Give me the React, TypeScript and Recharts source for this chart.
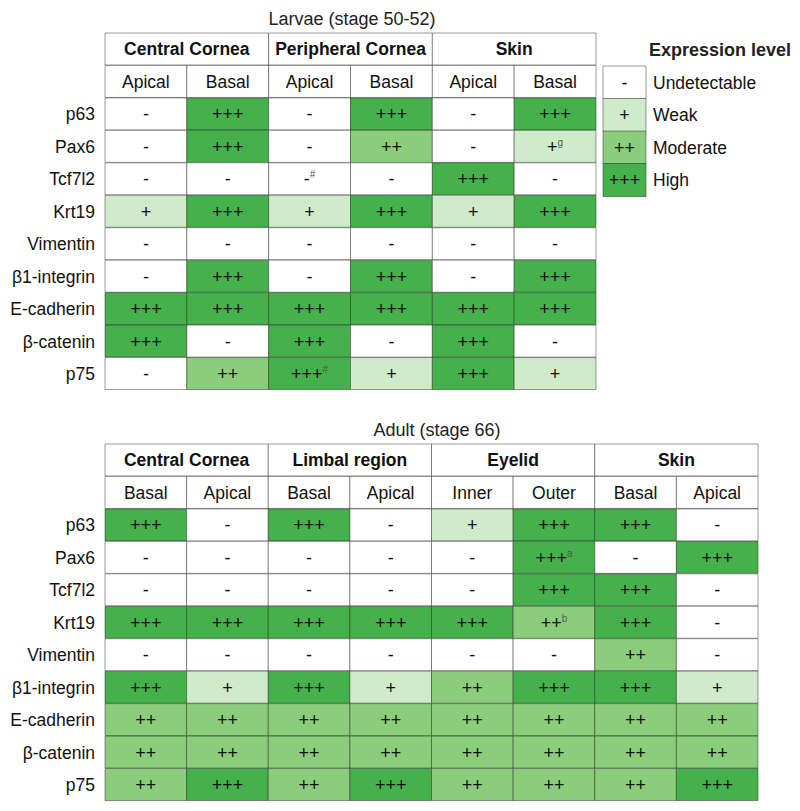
import React from "react";
import { BarChart, Bar, XAxis, YAxis, LabelList, Cell } from "recharts";

const FONT = "'Liberation Sans', Arial, Helvetica, sans-serif";

// expression level -> fill / symbol
const LEVEL_FILL = ["#ffffff", "#d0ebc9", "#8bcd7b", "#45b14b"];
const LEVEL_TEXT = ["-", "+", "++", "+++"];
const LEVEL_NAMES = ["Undetectable", "Weak", "Moderate", "High"];

const markers = ["p63", "Pax6", "Tcf7l2", "Krt19", "Vimentin", "β1-integrin", "E-cadherin", "β-catenin", "p75"];

// Larvae (stage 50-52)
const larvaeGroups = ["Central Cornea", "Peripheral Cornea", "Skin"];
const larvaeSubs = ["Apical", "Basal", "Apical", "Basal", "Apical", "Basal"];
const larvaeLevels = [
  [0, 3, 0, 3, 0, 3], // p63
  [0, 3, 0, 2, 0, 1], // Pax6
  [0, 0, 0, 0, 3, 0], // Tcf7l2
  [1, 3, 1, 3, 1, 3], // Krt19
  [0, 0, 0, 0, 0, 0], // Vimentin
  [0, 3, 0, 3, 0, 3], // b1-integrin
  [3, 3, 3, 3, 3, 3], // E-cadherin
  [3, 0, 3, 0, 3, 0], // b-catenin
  [0, 2, 3, 1, 3, 1], // p75
];
const larvaeNotes = [
  { row: 1, col: 5, sup: "g" },
  { row: 2, col: 2, sup: "#" },
  { row: 8, col: 2, sup: "#" },
];

// Adult (stage 66)
const adultGroups = ["Central Cornea", "Limbal region", "Eyelid", "Skin"];
const adultSubs = ["Basal", "Apical", "Basal", "Apical", "Inner", "Outer", "Basal", "Apical"];
const adultLevels = [
  [3, 0, 3, 0, 1, 3, 3, 0], // p63
  [0, 0, 0, 0, 0, 3, 0, 3], // Pax6
  [0, 0, 0, 0, 0, 3, 3, 0], // Tcf7l2
  [3, 3, 3, 3, 3, 2, 3, 0], // Krt19
  [0, 0, 0, 0, 0, 0, 2, 0], // Vimentin
  [3, 1, 3, 1, 2, 3, 3, 1], // b1-integrin
  [2, 2, 2, 2, 2, 2, 2, 2], // E-cadherin
  [2, 2, 2, 2, 2, 2, 2, 2], // b-catenin
  [2, 3, 2, 3, 2, 2, 2, 3], // p75
];
const adultNotes = [
  { row: 1, col: 5, sup: "a" },
  { row: 3, col: 5, sup: "b" },
];

const legendLevels = [0, 1, 2, 3];

// rows for a stacked horizontal bar table: group header, sub header, then markers
function buildRows(groups: string[], subs: string[], levels: number[][], notes: any[]) {
  const n = subs.length;
  const rows: any[] = [];
  const g: any = { name: "__group" };
  const s: any = { name: "__sub" };
  for (let i = 0; i < n; i++) {
    g["c" + i] = i % 2 === 0 ? 2 : 0;
    g["t" + i] = i % 2 === 0 ? "§" + groups[i / 2] : "";
    g["l" + i] = 0;
    s["c" + i] = 1;
    s["t" + i] = "~" + subs[i];
    s["l" + i] = 0;
  }
  rows.push(g, s);
  levels.forEach((lv, r) => {
    const row: any = { name: markers[r] };
    lv.forEach((l, i) => {
      const note = notes.find((nn) => nn.row === r && nn.col === i);
      row["c" + i] = 1;
      row["l" + i] = l;
      row["t" + i] = LEVEL_TEXT[l] + (note ? "^" + note.sup : "");
    });
    rows.push(row);
  });
  return rows;
}

const CellLabel = (props: any) => {
  const { x, y, width, height, value } = props;
  if (!value || !width) return null;
  let txt = String(value);
  let size = 18;
  let bold = false;
  if (txt.startsWith("§")) {
    bold = true;
    size = 17.5;
    txt = txt.slice(1);
  } else if (txt.startsWith("~")) {
    size = 17.5;
    txt = txt.slice(1);
  }
  const [main, sup] = txt.split("^");
  return (
    <text
      x={x + width / 2}
      y={y + height / 2}
      dy="0.36em"
      textAnchor="middle"
      fontFamily={FONT}
      fontSize={size}
      fontWeight={bold ? 700 : 400}
      fill="#111"
    >
      {main}
      {sup ? (
        <tspan dy="-0.7em" fontSize={10} fill="#555">
          {sup}
        </tspan>
      ) : null}
    </text>
  );
};

const RowTick = (props: any) => {
  const { x, y, payload } = props;
  const v = String(payload.value);
  if (v.startsWith("__")) return <g />;
  return (
    <text x={x} y={y} dy="0.36em" textAnchor="end" fontFamily={FONT} fontSize={17.5} fill="#111">
      {v}
    </text>
  );
};

const LegendTick = (props: any) => {
  const { x, y, payload } = props;
  return (
    <text x={x} y={y} dy="0.36em" textAnchor="start" fontFamily={FONT} fontSize={17.5} fill="#111">
      {LEVEL_NAMES[payload.value]}
    </text>
  );
};

function Table({ rows, n, width }: { rows: any[]; n: number; width: number }) {
  return (
    <BarChart
      width={width}
      height={395}
      data={rows}
      layout="vertical"
      margin={{ top: 33, right: 4, left: 0, bottom: 5 }}
      barCategoryGap={0}
      barGap={0}
    >
      <XAxis type="number" domain={[0, n]} hide />
      <YAxis
        type="category"
        dataKey="name"
        width={105}
        axisLine={false}
        tickLine={false}
        tickSize={8}
        tickMargin={2}
        tick={<RowTick />}
        interval={0}
      />
      {Array.from({ length: n }, (_, i) => (
        <Bar
          key={i}
          dataKey={"c" + i}
          stackId="t"
          stroke="rgba(30,30,30,0.45)"
          strokeWidth={1}
          isAnimationActive={false}
        >
          {rows.map((r, k) => (
            <Cell key={k} fill={LEVEL_FILL[r["l" + i]]} />
          ))}
          <LabelList dataKey={"t" + i} content={<CellLabel />} />
        </Bar>
      ))}
    </BarChart>
  );
}

export default function App() {
  const larvaeRows = buildRows(larvaeGroups, larvaeSubs, larvaeLevels, larvaeNotes);
  const adultRows = buildRows(adultGroups, adultSubs, adultLevels, adultNotes);
  const legendRows = legendLevels.map((l) => ({ name: l, v: 1, t: LEVEL_TEXT[l] }));

  const title: React.CSSProperties = {
    position: "absolute",
    fontFamily: FONT,
    fontSize: 18,
    color: "#222",
    textAlign: "center",
    lineHeight: "20px",
    width: 240,
  };

  return (
    <div style={{ position: "absolute", left: 0, top: 0, width: 800, height: 811, background: "#fff" }}>
      <div style={{ ...title, left: 232, top: 9 }}>Larvae (stage 50-52)</div>
      <div style={{ position: "absolute", left: 0, top: 0 }}>
        <Table rows={larvaeRows} n={6} width={600} />
      </div>

      <div style={{ ...title, left: 649, top: 40, width: 160, textAlign: "left", fontWeight: 700, fontSize: 18 }}>
        Expression level
      </div>
      <div style={{ position: "absolute", left: 560, top: 0 }}>
        <BarChart
          width={240}
          height={200}
          data={legendRows}
          layout="vertical"
          margin={{ top: 66, right: 0, left: 43, bottom: 4 }}
          barCategoryGap={0}
        >
          <XAxis type="number" domain={[0, 1]} hide />
          <YAxis
            type="category"
            dataKey="name"
            orientation="right"
            width={154}
            axisLine={false}
            tickLine={false}
            tickSize={5}
            tickMargin={2}
            tick={<LegendTick />}
            interval={0}
          />
          <Bar dataKey="v" stroke="rgba(30,30,30,0.45)" strokeWidth={1} isAnimationActive={false}>
            {legendRows.map((r, k) => (
              <Cell key={k} fill={LEVEL_FILL[r.name]} />
            ))}
            <LabelList dataKey="t" content={<CellLabel />} />
          </Bar>
        </BarChart>
      </div>

      <div style={{ ...title, left: 317, top: 420 }}>Adult (stage 66)</div>
      <div style={{ position: "absolute", left: 0, top: 411 }}>
        <Table rows={adultRows} n={8} width={762} />
      </div>
    </div>
  );
}
